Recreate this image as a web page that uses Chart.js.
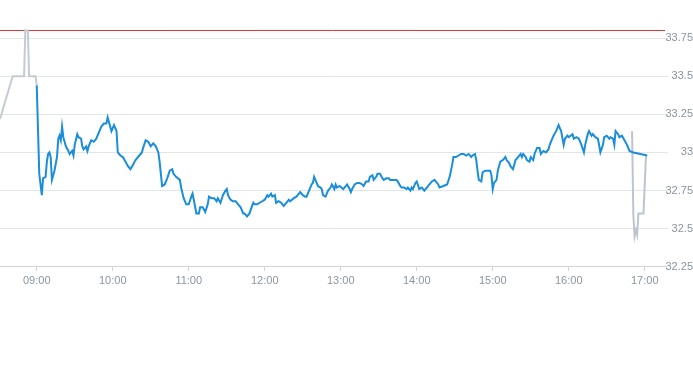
<!DOCTYPE html>
<html>
<head>
<meta charset="utf-8">
<script src="https://cdn.jsdelivr.net/npm/chart.js@4.4.0/dist/chart.umd.min.js"></script>
<style>
  html, body { margin: 0; padding: 0; background: #fff; }
  #wrap { width: 693px; height: 365px; }
</style>
</head>
<body>
<div id="wrap"><canvas id="intraday"></canvas></div>
<script>
// pre-market (grey)
const preTimes = ['08:31', '08:41', '08:50', '08:51', '08:53', '08:54', '08:59', '09:00'];
const preValues = [33.22, 33.50, 33.50, 33.80, 33.80, 33.50, 33.50, 33.44];

// trading session (blue)
const sessionTimes = [
  '09:00', '09:02', '09:04', '09:05', '09:07', '09:08', '09:09', '09:10', '09:11', '09:12',
  '09:14', '09:16', '09:17', '09:18', '09:19', '09:20', '09:21', '09:23', '09:25', '09:26',
  '09:28', '09:29', '09:30', '09:32', '09:33', '09:35', '09:36', '09:37', '09:39', '09:40',
  '09:41', '09:43', '09:45', '09:47', '09:49', '09:51', '09:53', '09:55', '09:56', '09:57',
  '09:59', '10:01', '10:03', '10:04', '10:06', '10:08', '10:10', '10:12', '10:14', '10:16',
  '10:18', '10:21', '10:23', '10:24', '10:26', '10:28', '10:30', '10:32', '10:34', '10:36',
  '10:37', '10:39', '10:41', '10:43', '10:45', '10:47', '10:48', '10:50', '10:53', '10:54',
  '10:56', '10:58', '11:00', '11:02', '11:03', '11:04', '11:06', '11:08', '11:09', '11:11',
  '11:13', '11:15', '11:16', '11:18', '11:20', '11:22', '11:23', '11:25', '11:27', '11:29',
  '11:30', '11:31', '11:33', '11:35', '11:37', '11:39', '11:41', '11:43', '11:44', '11:46',
  '11:48', '11:50', '11:51', '11:52', '11:54', '11:56', '11:58', '12:00', '12:02', '12:03',
  '12:05', '12:06', '12:08', '12:09', '12:11', '12:13', '12:15', '12:17', '12:19', '12:20',
  '12:23', '12:25', '12:26', '12:28', '12:30', '12:32', '12:33', '12:35', '12:37', '12:38',
  '12:39', '12:41', '12:42', '12:44', '12:45', '12:46', '12:48', '12:50', '12:52', '12:53',
  '12:55', '12:56', '12:57', '12:59', '13:02', '13:03', '13:05', '13:07', '13:08', '13:09',
  '13:11', '13:13', '13:15', '13:17', '13:18', '13:20', '13:22', '13:23', '13:25', '13:26',
  '13:28', '13:29', '13:31', '13:33', '13:34', '13:36', '13:38', '13:39', '13:42', '13:44',
  '13:45', '13:47', '13:48', '13:50', '13:52', '13:53', '13:55', '13:56', '13:57', '13:59',
  '14:00', '14:02', '14:04', '14:06', '14:08', '14:10', '14:12', '14:14', '14:15', '14:17',
  '14:18', '14:21', '14:24', '14:26', '14:28', '14:29', '14:31', '14:33', '14:35', '14:37',
  '14:39', '14:41', '14:43', '14:44', '14:46', '14:47', '14:48', '14:49', '14:51', '14:52',
  '14:54', '14:56', '14:58', '14:59', '15:00', '15:01', '15:03', '15:04', '15:06', '15:08',
  '15:10', '15:11', '15:13', '15:14', '15:16', '15:17', '15:18', '15:20', '15:22', '15:23',
  '15:24', '15:26', '15:27', '15:29', '15:30', '15:32', '15:33', '15:35', '15:37', '15:38',
  '15:40', '15:42', '15:44', '15:45', '15:47', '15:48', '15:50', '15:52', '15:53', '15:54',
  '15:56', '15:57', '15:59', '16:00', '16:03', '16:04', '16:06', '16:08', '16:10', '16:12',
  '16:13', '16:15', '16:16', '16:18', '16:19', '16:21', '16:23', '16:24', '16:25', '16:27',
  '16:28', '16:30', '16:32', '16:33', '16:35', '16:36', '16:37', '16:39', '16:40', '16:42',
  '16:44', '16:46', '16:48', '16:51', '17:02'
];
const sessionValues = [
  33.44, 32.86, 32.72, 32.83, 32.84, 32.94, 32.99, 33.00, 32.97, 32.82,
  32.88, 32.97, 33.09, 33.11, 33.08, 33.17, 33.10, 33.04, 33.01, 32.99,
  33.01, 32.98, 33.05, 33.12, 33.10, 33.09, 33.04, 33.02, 33.04, 33.01,
  33.04, 33.08, 33.07, 33.09, 33.13, 33.17, 33.19, 33.19, 33.23, 33.20,
  33.14, 33.18, 33.14, 33.00, 32.98, 32.97, 32.94, 32.91, 32.89, 32.92,
  32.95, 32.98, 33.00, 33.03, 33.08, 33.07, 33.04, 33.06, 33.04, 33.00,
  32.94, 32.78, 32.79, 32.83, 32.88, 32.89, 32.86, 32.84, 32.82, 32.77,
  32.70, 32.66, 32.66, 32.71, 32.73, 32.69, 32.60, 32.60, 32.64, 32.64,
  32.61, 32.66, 32.71, 32.70, 32.70, 32.68, 32.70, 32.67, 32.72, 32.75,
  32.76, 32.72, 32.69, 32.68, 32.68, 32.66, 32.64, 32.60, 32.60, 32.58,
  32.60, 32.65, 32.67, 32.66, 32.66, 32.67, 32.68, 32.69, 32.72, 32.71,
  32.73, 32.71, 32.72, 32.67, 32.68, 32.67, 32.65, 32.67, 32.69, 32.68,
  32.70, 32.71, 32.72, 32.74, 32.72, 32.71, 32.71, 32.75, 32.79, 32.80,
  32.84, 32.80, 32.78, 32.77, 32.76, 32.72, 32.71, 32.75, 32.77, 32.79,
  32.76, 32.79, 32.77, 32.78, 32.76, 32.77, 32.79, 32.76, 32.74, 32.76,
  32.79, 32.80, 32.80, 32.79, 32.78, 32.81, 32.81, 32.84, 32.85, 32.82,
  32.84, 32.86, 32.86, 32.83, 32.82, 32.83, 32.83, 32.82, 32.82, 32.82,
  32.81, 32.78, 32.77, 32.77, 32.76, 32.77, 32.75, 32.77, 32.76, 32.80,
  32.81, 32.76, 32.77, 32.75, 32.77, 32.79, 32.81, 32.82, 32.81, 32.79,
  32.77, 32.78, 32.79, 32.84, 32.92, 32.97, 32.97, 32.98, 32.99, 32.99,
  32.98, 32.99, 32.97, 32.98, 32.99, 32.95, 32.88, 32.82, 32.81, 32.87,
  32.88, 32.88, 32.88, 32.85, 32.76, 32.80, 32.82, 32.88, 32.94, 32.95,
  32.97, 32.95, 32.93, 32.91, 32.89, 32.92, 32.95, 32.97, 32.99, 32.97,
  32.99, 32.97, 32.95, 32.94, 32.97, 32.95, 32.99, 33.03, 33.03, 32.99,
  33.01, 33.00, 33.02, 33.05, 33.09, 33.11, 33.14, 33.18, 33.16, 33.14,
  33.05, 33.09, 33.11, 33.10, 33.12, 33.09, 33.10, 33.09, 33.05, 33.00,
  33.05, 33.12, 33.14, 33.11, 33.12, 33.10, 33.09, 33.05, 33.00, 33.05,
  33.10, 33.11, 33.09, 33.10, 33.09, 33.05, 33.14, 33.12, 33.10, 33.11,
  33.08, 33.05, 33.01, 33.00, 32.98
];

// post-market (grey)
const postTimes = ['16:50', '16:51', '16:52', '16:53', '16:54', '16:55', '16:59', '17:01'];
const postValues = [33.14, 32.59, 32.45, 32.49, 32.46, 32.60, 32.60, 32.98];

const prevClose = 33.80;
const hourTicks = ['09:00', '10:00', '11:00', '12:00', '13:00', '14:00', '15:00', '16:00', '17:00'];
const priceTicks = [32.25, 32.5, 32.75, 33, 33.25, 33.5, 33.75];

const xStart = '08:31';
const xEnd = '17:16';

function toMin(t) {
  const p = t.split(':');
  return Number(p[0]) * 60 + Number(p[1]);
}
function fmtMin(m) {
  const h = Math.floor(m / 60), mm = Math.round(m % 60);
  return String(h).padStart(2, '0') + ':' + String(mm).padStart(2, '0');
}
function points(times, values) {
  return times.map((t, i) => ({ x: toMin(t), y: values[i] }));
}

const labelColor = '#8a95a1';
const fontFamily = '"Liberation Sans", Arial, Helvetica, sans-serif';

const ctx = document.getElementById('intraday');

new Chart(ctx, {
  type: 'line',
  data: {
    datasets: [
      {
        label: 'Session',
        data: points(sessionTimes, sessionValues),
        borderColor: '#1a8ddb',
        borderWidth: 2,
        pointRadius: 0,
        tension: 0
      },
      {
        label: 'Pre',
        data: points(preTimes, preValues),
        borderColor: '#c3cbd3',
        borderWidth: 2,
        pointRadius: 0,
        tension: 0
      },
      {
        label: 'Post',
        data: points(postTimes, postValues),
        borderColor: '#bcc5ce',
        borderWidth: 2,
        pointRadius: 0,
        tension: 0
      },
      {
        label: 'Previous close',
        data: [{ x: toMin(xStart), y: prevClose }, { x: toMin(xEnd), y: prevClose }],
        borderColor: '#d23b33',
        borderWidth: 1,
        pointRadius: 0
      }
    ]
  },
  options: {
    responsive: true,
    maintainAspectRatio: false,
    animation: false,
    layout: {
      padding: { top: 0, left: 0, right: 0, bottom: 73 }
    },
    plugins: {
      legend: { display: false },
      tooltip: { enabled: false }
    },
    scales: {
      x: {
        type: 'linear',
        min: toMin(xStart),
        max: toMin(xEnd),
        afterBuildTicks: (scale) => {
          scale.ticks = hourTicks.map(h => ({ value: toMin(h) }));
        },
        afterFit: (scale) => {
          scale.paddingLeft = 0;
          scale.paddingRight = 0;
        },
        ticks: {
          callback: (v) => fmtMin(v),
          color: labelColor,
          font: { size: 11, family: fontFamily },
          maxRotation: 0,
          autoSkip: false,
          padding: 4
        },
        grid: {
          drawOnChartArea: false,
          drawTicks: true,
          tickLength: 4,
          color: '#cfd4d9'
        },
        border: { display: true, color: '#cfd4d9' }
      },
      y: {
        position: 'right',
        min: 32.25,
        max: 34,
        afterBuildTicks: (scale) => {
          scale.ticks = priceTicks.map(v => ({ value: v }));
        },
        afterFit: (scale) => {
          scale.width = 28;
          scale.paddingTop = 0;
          scale.paddingBottom = 0;
        },
        ticks: {
          callback: (v) => String(v),
          color: labelColor,
          font: { size: 11, family: fontFamily },
          crossAlign: 'far',
          padding: 2
        },
        grid: {
          color: '#e2e5e9',
          tickLength: 3
        },
        border: { display: false }
      }
    }
  }
});
</script>
</body>
</html>
